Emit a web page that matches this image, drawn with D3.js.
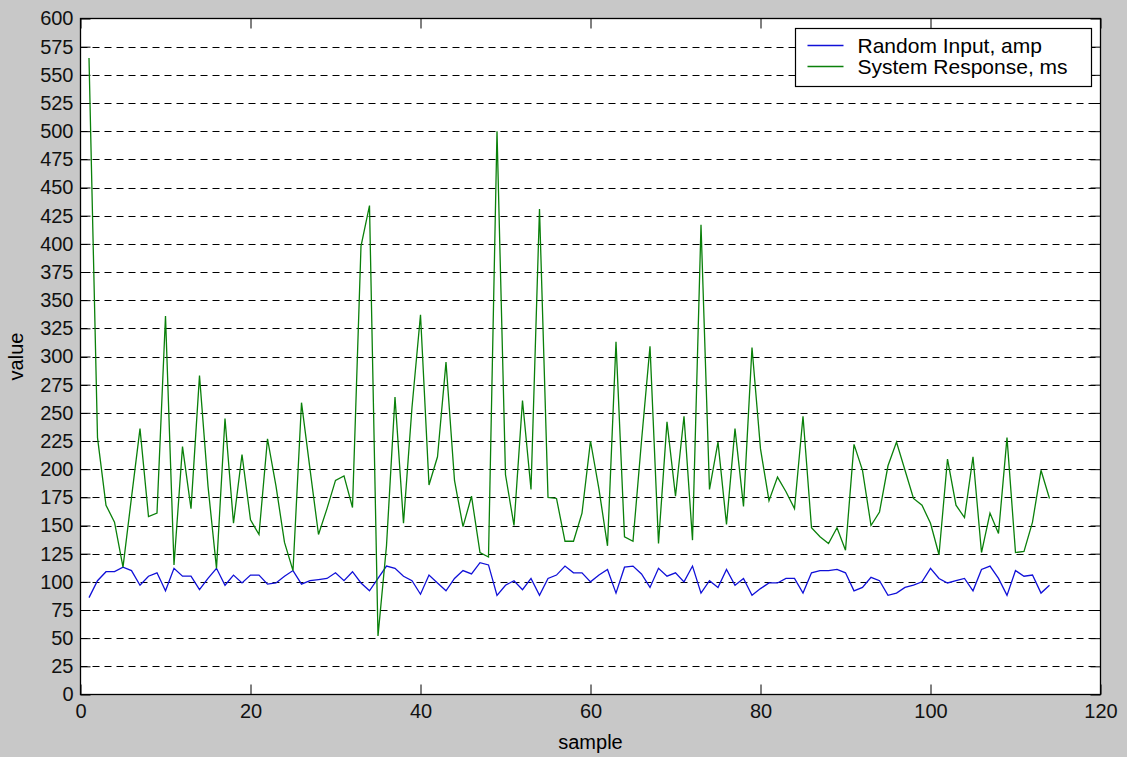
<!DOCTYPE html>
<html>
<head>
<meta charset="utf-8">
<script src="https://cdn.jsdelivr.net/npm/d3@7"></script>
<style>
  body { margin: 0; background: #c8c8c8; }
  svg { display: block; }
  text { font-family: "Liberation Sans", Arial, sans-serif; fill: #000; }
</style>
</head>
<body>
<svg id="chart"></svg>
<script>
var width = 1127;
var height = 757;

// data (sample index starts at 1)
var inputAmp = [86, 101, 109, 109, 113, 110, 97, 105, 108, 92,
  112, 105, 105, 93, 103, 112, 97, 106, 99, 106,
  106, 98, 99, 105, 110, 98, 101, 102, 103, 108,
  101, 109, 99, 92, 103, 114, 112, 105, 101, 89,
  106, 99, 92, 103, 110, 107, 117, 115, 88, 97,
  101, 93, 103, 88, 103, 106, 114, 108, 108, 100,
  106, 111, 90, 113, 114, 107, 95, 112, 105, 108,
  100, 114, 90, 101, 95, 111, 97, 103, 88, 94,
  99, 99, 103, 103, 90, 108, 110, 110, 111, 108,
  92, 95, 104, 101, 88, 90, 95, 97, 100, 112,
  103, 99, 101, 103, 92, 111, 114, 103, 88, 110,
  105, 106, 90, 97];
var responseMs = [565, 228, 168, 153, 113, 175, 236, 158, 161, 336,
  115, 220, 165, 283, 185, 112, 245, 152, 213, 155,
  142, 227, 185, 135, 110, 259, 200, 142, 165, 190,
  194, 166, 398, 434, 52, 132, 264, 152, 255, 337,
  186, 211, 295, 190, 149, 176, 126, 122, 500, 195,
  150, 261, 182, 431, 175, 174, 136, 136, 161, 225,
  182, 132, 313, 140, 136, 225, 309, 134, 242, 176,
  247, 137, 417, 182, 224, 151, 236, 167, 308, 218,
  172, 193, 180, 165, 247, 148, 140, 134, 148, 128,
  222, 199, 150, 162, 203, 224, 199, 174, 168, 152,
  124, 209, 168, 157, 211, 126, 161, 143, 228, 126,
  127, 153, 199, 174];
var seriesNames = ["Random Input, amp", "System Response, ms"];
var seriesColors = ["#1010d8", "#0a800a"];
var xTicks = [0, 20, 40, 60, 80, 100, 120];
var yTicks = [0, 25, 50, 75, 100, 125, 150, 175, 200, 225, 250, 275, 300,
  325, 350, 375, 400, 425, 450, 475, 500, 525, 550, 575, 600];

var plot = { left: 80.5, right: 1100.5, top: 18.5, bottom: 694.5 };

var svg = d3.select("#chart").attr("width", width).attr("height", height);

svg.append("rect")
  .attr("width", width).attr("height", height)
  .style("fill", "#c8c8c8");

var x = d3.scaleLinear().domain([0, 120]).range([plot.left, plot.right]);
var y = d3.scaleLinear().domain([0, 600]).range([plot.bottom, plot.top]);

svg.append("rect")
  .attr("x", plot.left).attr("y", plot.top)
  .attr("width", plot.right - plot.left)
  .attr("height", plot.bottom - plot.top)
  .style("fill", "#ffffff");

// dashed horizontal grid
svg.append("g")
  .selectAll("line")
  .data(yTicks.filter(function (d) { return d > 0 && d < 600; }))
  .enter()
  .append("line")
  .attr("x1", plot.left).attr("x2", plot.right)
  .attr("y1", function (d) { return Math.round(y(d)) + 0.5; })
  .attr("y2", function (d) { return Math.round(y(d)) + 0.5; })
  .style("stroke", "#000")
  .style("stroke-width", 1)
  .style("stroke-dasharray", "7,5");

var tickLen = 10;
var fontSize = "20px";

svg.append("g")
  .attr("transform", "translate(0," + plot.bottom + ")")
  .call(d3.axisBottom(x).tickValues(xTicks).tickSize(-tickLen).tickSizeOuter(0).tickPadding(9));
svg.append("g")
  .attr("transform", "translate(0," + plot.top + ")")
  .call(d3.axisTop(x).tickValues(xTicks).tickSize(-tickLen).tickSizeOuter(0).tickFormat(""));
svg.append("g")
  .attr("transform", "translate(" + plot.left + ",0)")
  .call(d3.axisLeft(y).tickValues(yTicks).tickSize(-tickLen).tickSizeOuter(0).tickPadding(7));
svg.append("g")
  .attr("transform", "translate(" + plot.right + ",0)")
  .call(d3.axisRight(y).tickValues(yTicks).tickSize(-tickLen).tickSizeOuter(0).tickFormat(""));

svg.selectAll(".domain").remove();
svg.selectAll(".tick line").style("stroke", "#000");
svg.selectAll(".tick text")
  .style("font-family", "'Liberation Sans', Arial, sans-serif")
  .style("font-size", fontSize)
  .style("fill", "#111");

// series
var line = d3.line()
  .x(function (d, i) { return x(i + 1); })
  .y(function (d) { return y(d); });

[inputAmp, responseMs].forEach(function (data, k) {
  svg.append("path")
    .datum(data)
    .attr("d", line)
    .style("fill", "none")
    .style("stroke", seriesColors[k])
    .style("stroke-width", 1.3);
});

// axes box
svg.append("rect")
  .attr("x", plot.left).attr("y", plot.top)
  .attr("width", plot.right - plot.left)
  .attr("height", plot.bottom - plot.top)
  .style("fill", "none")
  .style("stroke", "#000")
  .style("stroke-width", 1.3);

// axis labels
svg.append("text")
  .attr("x", (plot.left + plot.right) / 2)
  .attr("y", 749)
  .attr("text-anchor", "middle")
  .style("font-size", fontSize)
  .text("sample");

svg.append("text")
  .attr("transform", "translate(23," + (plot.top + plot.bottom) / 2 + ") rotate(-90)")
  .attr("text-anchor", "middle")
  .style("font-size", fontSize)
  .text("value");

// legend
var legend = { x: 795.5, y: 28.5, w: 296, h: 58 };
svg.append("rect")
  .attr("x", legend.x).attr("y", legend.y)
  .attr("width", legend.w).attr("height", legend.h)
  .style("fill", "#ffffff")
  .style("stroke", "#000")
  .style("stroke-width", 1.2);

var rows = svg.append("g")
  .selectAll("g")
  .data(seriesNames)
  .enter()
  .append("g")
  .attr("transform", function (d, i) {
    return "translate(" + legend.x + "," + (legend.y + 17 + i * 21) + ")";
  });

rows.append("line")
  .attr("x1", 12).attr("x2", 48)
  .attr("y1", 0).attr("y2", 0)
  .style("stroke", function (d, i) { return seriesColors[i]; })
  .style("stroke-width", 1.3);

rows.append("text")
  .attr("x", 62)
  .attr("dy", "0.35em")
  .style("font-size", "21px")
  .text(function (d) { return d; });
</script>
</body>
</html>
